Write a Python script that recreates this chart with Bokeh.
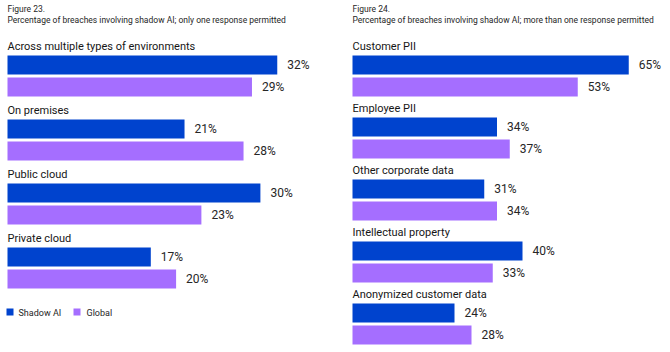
from bokeh.plotting import figure
from bokeh.models import Range1d
from bokeh.layouts import row
from bokeh.core.properties import value
from bokeh.embed import file_html
from bokeh.resources import INLINE

# ---- data ----
left_fig = "Figure 23."
left_sub = "Percentage of breaches involving shadow AI; only one response permitted"
left_categories = ["Across multiple types of environments", "On premises", "Public cloud", "Private cloud"]
left_shadow = [32, 21, 30, 17]
left_global = [29, 28, 23, 20]

right_fig = "Figure 24."
right_sub = "Percentage of breaches involving shadow AI; more than one response permitted"
right_categories = ["Customer PII", "Employee PII", "Other corporate data",
                    "Intellectual property", "Anonymized customer data"]
right_shadow = [65, 34, 31, 40, 24]
right_global = [53, 37, 34, 33, 28]

series_names = ["Shadow AI", "Global"]

BLUE = "#0043CE"
PURPLE = "#A56EFF"
FONT = "Roboto"
TXT = "#161616"


def panel(fig_t, sub_t, cats, shadow, glob, px_per, x0px, spacing, legend):
    W, H = 335, 352
    p = figure(width=W, height=H, output_backend="svg", toolbar_location=None,
               x_range=Range1d(-x0px / px_per, (W - x0px) / px_per),
               y_range=Range1d(H, 0), min_border=0,
               x_axis_location=None, y_axis_location=None)
    p.outline_line_color = None
    p.grid.visible = False
    p.background_fill_color = "white"
    p.border_fill_color = "white"

    n = len(cats)
    label_y = [46 + spacing * i for i in range(n)]
    sy = [64.5 + spacing * i for i in range(n)]
    gy = [86.5 + spacing * i for i in range(n)]

    p.hbar(y=sy, left=0, right=shadow, height=19, fill_color=BLUE, line_color=None)
    p.hbar(y=gy, left=0, right=glob, height=19, fill_color=PURPLE, line_color=None)

    p.text(x=[0] * n, y=label_y, text=cats, text_font=value(FONT),
           text_font_size="11px", text_color=TXT, text_baseline="alphabetic")
    p.text(x=shadow, y=sy, text=[f"{v}%" for v in shadow], x_offset=10,
           text_font=value(FONT), text_font_size="12px", text_color="#262626",
           text_baseline="middle")
    p.text(x=glob, y=gy, text=[f"{v}%" for v in glob], x_offset=10,
           text_font=value(FONT), text_font_size="12px", text_color="#262626",
           text_baseline="middle")

    p.text(x=[0, 0], y=[8, 19], text=[fig_t, sub_t], text_font=value(FONT),
           text_font_size="8.5px", text_color="#262626", text_baseline="alphabetic")

    if legend:
        def px2x(px):
            return (px - x0px) / px_per
        p.scatter(x=[px2x(9.5), px2x(76.5)], y=[311.5, 311.5], marker="square",
                  size=7, fill_color=[BLUE, PURPLE], line_color=None)
        p.text(x=[px2x(18), px2x(86)], y=[312, 312], text=series_names,
               text_font=value(FONT), text_font_size="9px", text_color="#262626",
               text_baseline="middle")
    return p


p1 = panel(left_fig, left_sub, left_categories, left_shadow, left_global,
           8.43, 7, 64, True)
p2 = panel(right_fig, right_sub, right_categories, right_shadow, right_global,
           4.25, 17, 62, False)

layout = row(p1, p2)
open("out.html", "w").write(file_html(layout, INLINE))
